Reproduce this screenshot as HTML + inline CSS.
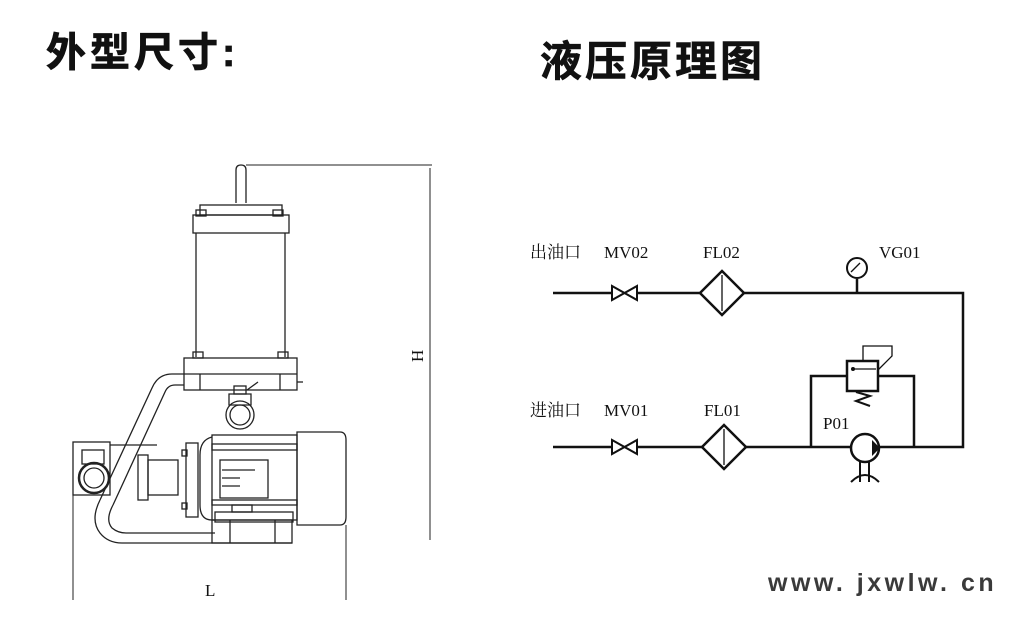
<!DOCTYPE html>
<html><head><meta charset="utf-8"><style>
html,body{margin:0;padding:0;background:#fff;}
svg{display:block;}
.t{font-family:"Liberation Sans","Noto Sans CJK SC",sans-serif;font-weight:bold;fill:#111;}
.l{font-family:"Liberation Serif","Noto Serif CJK SC",serif;fill:#111;font-size:17px;}
</style></head><body>
<svg width="1011" height="628" viewBox="0 0 1011 628" xmlns="http://www.w3.org/2000/svg">
<text class="t" x="46" y="66" font-size="40" letter-spacing="4" stroke="#111" stroke-width="0.8">外型尺寸:</text>
<text class="t" x="540" y="76" font-size="42" letter-spacing="3" stroke="#111" stroke-width="0.6">液压原理图</text>

<!-- left drawing -->
<g fill="none" stroke="#222" stroke-width="1.3">
<path d="M236 203 V170 Q236 165 241 165 Q246 165 246 170 V203"/>
<line x1="246" y1="165" x2="432" y2="165" stroke-width="1"/>
<line x1="430" y1="168" x2="430" y2="540" stroke-width="1"/>
<rect x="200" y="205" width="82" height="10"/>
<rect x="193" y="215" width="96" height="18"/>
<rect x="196" y="210" width="10" height="6"/><rect x="273" y="210" width="10" height="6"/>
<line x1="196" y1="233" x2="196" y2="357"/><line x1="285" y1="233" x2="285" y2="357"/>
<rect x="193" y="352" width="10" height="6"/><rect x="278" y="352" width="10" height="6"/>
<rect x="184" y="358" width="113" height="32"/>
<line x1="184" y1="374" x2="297" y2="374"/>
<line x1="200" y1="374" x2="200" y2="390"/><line x1="280" y1="374" x2="280" y2="390"/>
<line x1="297" y1="382" x2="303" y2="382"/>
<rect x="234" y="386" width="12" height="8"/>
<path d="M229 394 H251 V405 H229 Z"/>
<line x1="247" y1="390" x2="258" y2="382"/>
<circle cx="240" cy="415" r="14"/><circle cx="240" cy="415" r="10"/>
<path d="M184 374 H172 Q158 374 152 388 L100 500"/>
<path d="M184 385 H175 Q168 385 165 392 L113 505"/>
<path d="M100 500 Q90 520 100 533 Q108 543 122 543 H292"/>
<path d="M113 505 Q105 520 112 528 Q118 533 126 533 H215"/>
<rect x="73" y="442" width="37" height="53"/>
<line x1="110" y1="445" x2="157" y2="445"/>
<rect x="82" y="450" width="22" height="14"/>
<circle cx="94" cy="478" r="15" stroke-width="2.5"/><circle cx="94" cy="478" r="10"/>
<rect x="138" y="455" width="10" height="45"/>
<rect x="148" y="460" width="30" height="35"/>
<rect x="186" y="443" width="12" height="74"/>
<rect x="182" y="450" width="5" height="6"/><rect x="182" y="503" width="5" height="6"/>
<path d="M212 437 Q200 440 200 455 V505 Q200 520 212 520"/>
<rect x="212" y="435" width="85" height="85"/>
<rect x="212" y="444" width="85" height="6"/>
<rect x="212" y="500" width="85" height="5"/>
<rect x="220" y="460" width="48" height="38"/>
<line x1="222" y1="470" x2="255" y2="470"/><line x1="222" y1="478" x2="240" y2="478"/><line x1="222" y1="486" x2="240" y2="486"/>
<path d="M297 432 H340 Q346 432 346 440 V517 Q346 525 340 525 H297 Z"/>
<rect x="215" y="512" width="78" height="10"/>
<rect x="232" y="505" width="20" height="7"/>
<rect x="212" y="520" width="80" height="23"/>
<line x1="230" y1="520" x2="230" y2="543"/><line x1="275" y1="520" x2="275" y2="543"/>
<line x1="73" y1="495" x2="73" y2="600" stroke-width="1"/>
<line x1="346" y1="525" x2="346" y2="600" stroke-width="1"/>
</g>
<text class="l" x="205" y="596" font-size="16">L</text>
<text class="l" x="0" y="0" font-size="16" transform="translate(423,362) rotate(-90)">H</text>

<!-- schematic -->
<g fill="none" stroke="#111" stroke-width="2.5">
<path d="M553 293 H611 M638 293 H700 M744 293 H963 V447 H880 M553 447 H611 M638 447 H702 M746 447 H852"/>
<path d="M722 271 L744 293 L722 315 L700 293 Z" fill="#fff"/>
<path d="M724 425 L746 447 L724 469 L702 447 Z" fill="#fff"/>
<line x1="857" y1="279" x2="857" y2="293"/>
<circle cx="857" cy="268" r="10" fill="#fff" stroke-width="2"/>
<path d="M811 447 V376 H847 M878 376 H914 V447" />
<rect x="847" y="361" width="31" height="30" fill="#fff"/>
<path d="M856 392 L870 396 L856 401 L870 406" stroke-width="2"/>
<circle cx="865" cy="448" r="14" fill="#fff" stroke-width="2.5"/>
<path d="M860 462 V482 M869 462 V482 M851 482 Q865 468 879 482" stroke-width="2"/>
</g>
<g fill="none" stroke="#111" stroke-width="2">
<path d="M612 286 V300 L637 286 V300 Z"/>
<path d="M612 440 V454 L637 440 V454 Z"/>
</g>
<g stroke="#111" fill="none" stroke-width="1.3">
<line x1="722" y1="275" x2="722" y2="311"/>
<line x1="724" y1="429" x2="724" y2="465"/>
<line x1="851" y1="272" x2="860" y2="263"/>
<path d="M863 361 V346 H892 V356 L878 370"/>
<line x1="852" y1="369" x2="876" y2="369"/>
</g>
<path d="M872 440 L880 448 L872 456 Z" fill="#111"/>
<circle cx="853" cy="369" r="2" fill="#111"/>

<g class="l">
<text x="530" y="258">出油口</text><text x="604" y="258">MV02</text>
<text x="703" y="258">FL02</text><text x="879" y="258">VG01</text>
<text x="530" y="416">进油口</text><text x="604" y="416">MV01</text>
<text x="704" y="416">FL01</text><text x="823" y="429">P01</text>
</g>
<text x="768" y="591" font-family="Liberation Sans,sans-serif" font-weight="bold" font-size="25" fill="#3a3a3a" letter-spacing="3.5">www. jxwlw. cn</text>
</svg>
</body></html>
